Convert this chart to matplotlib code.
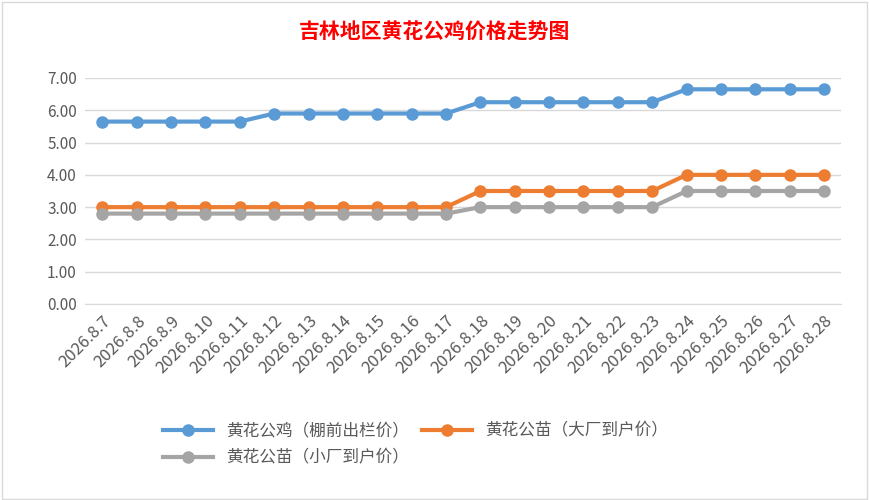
import matplotlib
matplotlib.use("Agg")
import matplotlib.pyplot as plt

plt.rcParams['font.family'] = ['Noto Sans CJK SC', 'DejaVu Sans']

dates = ["2026.8.%d" % d for d in range(7, 29)]
rooster = [5.65]*5 + [5.90]*6 + [6.25]*6 + [6.65]*5
big = [3.00]*11 + [3.50]*6 + [4.00]*5
small = [2.80]*11 + [3.00]*6 + [3.50]*5
names = ["黄花公鸡（棚前出栏价）", "黄花公苗（大厂到户价）", "黄花公苗（小厂到户价）"]
colors = ["#5B9BD5", "#ED7D31", "#A5A5A5"]

fig = plt.figure(figsize=(8.69, 5.0), dpi=100)
ax = fig.add_axes([0.098, 0.392, 0.87, 0.452])
x = range(len(dates))
for ys, n, c in zip([rooster, big, small], names, colors):
    ax.plot(x, ys, color=c, lw=3, marker='o', ms=8, label=n)
ax.set_ylim(0, 7)
ax.set_yticks(range(8))
ax.set_yticklabels(["%.2f" % v for v in range(8)], fontsize=11, color="#595959")
ax.set_xlim(-0.5, len(dates) - 0.5)
ax.set_xticks(list(x))
ax.set_xticklabels(dates, rotation=45, ha='right', rotation_mode='anchor', fontsize=12, color="#595959")
ax.grid(axis='y', color="#D9D9D9", lw=1)
ax.set_axisbelow(True)
for s in ax.spines.values():
    s.set_visible(False)
ax.spines['bottom'].set_visible(True)
ax.spines['bottom'].set_color("#D9D9D9")
ax.tick_params(length=0, pad=6)
fig.text(0.5, 0.935, "吉林地区黄花公鸡价格走势图", ha='center', va='center', fontsize=15,
         color='#FF0000', fontweight='bold')
h, l = ax.get_legend_handles_labels()
order = [0, 2, 1]
leg = fig.legend([h[i] for i in order], [l[i] for i in order], loc='upper left',
                 bbox_to_anchor=(0.17, 0.185), ncol=2, frameon=False,
                 fontsize=12, handlelength=3, columnspacing=0.8, labelspacing=0.6,
                 labelcolor="#595959")
fig.patches.append(plt.Rectangle((0.002, 0.003), 0.996, 0.994, transform=fig.transFigure,
                                 fill=False, ec="#D9D9D9", lw=1))
fig.savefig("out.png", dpi=100)
